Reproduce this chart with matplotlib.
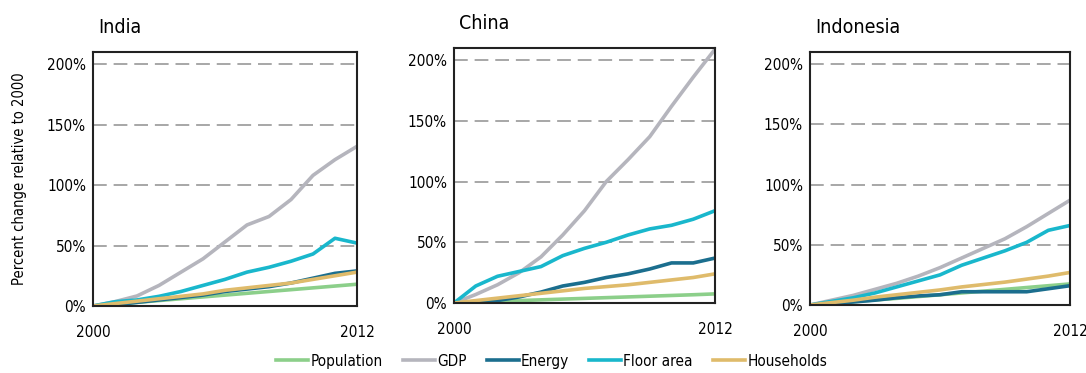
import numpy as np
import matplotlib
matplotlib.use("Agg")
import matplotlib.pyplot as plt

plt.rcParams['font.family'] = ['DejaVu Sans']
plt.rcParams['font.stretch'] = 'condensed'

# Datos (cambio % respecto a 2000)
years = list(range(2000, 2013))
series_names = ["Population", "GDP", "Energy", "Floor area", "Households"]
colors = ["#8ccf8a", "#b5b5bd", "#1b6e8e", "#19b7cc", "#dfbb6b"]

india_population = [0, 1.5, 3, 4.5, 6, 7.5, 9, 10.5, 12, 13.5, 15, 16.5, 18]
india_gdp = [0, 3.6, 8.3, 17, 28, 39, 53, 67, 74, 88, 108, 121, 132]
india_energy = [0, 1, 3, 5, 7, 9, 12, 14, 16, 19, 23, 27, 29]
india_floor = [0, 3.5, 5, 8, 12, 17, 22, 28, 32, 37, 43, 56, 52]
india_households = [0, 2, 4, 6, 8, 10, 13, 15, 17, 19, 22, 25, 28]

china_population = [0, 0.7, 1.4, 2, 2.6, 3.2, 3.8, 4.4, 5, 5.6, 6.2, 6.8, 7.5]
china_gdp = [0, 7, 15, 25, 38, 56, 76, 100, 118, 137, 162, 186, 209]
china_energy = [0, 0.5, 2, 5, 9, 14, 17, 21, 24, 28, 33, 33, 37]
china_floor = [0, 14, 22, 26, 30, 39, 45, 50, 56, 61, 64, 69, 76]
china_households = [0, 2, 4, 6, 8, 10, 12, 13.5, 15, 17, 19, 21, 24]

indonesia_population = [0, 1.4, 2.8, 4.2, 5.5, 7, 8.5, 10, 11.5, 13, 14.5, 16, 17.5]
indonesia_gdp = [0, 4, 8, 13, 18, 24, 31, 39, 47, 55, 65, 76, 87]
indonesia_energy = [0, 1, 2.5, 4, 6, 7.5, 8.5, 11, 11, 11, 11, 13.5, 16]
indonesia_floor = [0, 3, 6, 10, 15, 20, 25, 33, 39, 45, 52, 62, 66]
indonesia_households = [0, 2, 4, 6.5, 8.5, 10.5, 12.5, 15, 17, 19, 21.5, 24, 27]

countries = ["India", "China", "Indonesia"]
data = {
    "India": [india_population, india_gdp, india_energy, india_floor, india_households],
    "China": [china_population, china_gdp, china_energy, china_floor, china_households],
    "Indonesia": [indonesia_population, indonesia_gdp, indonesia_energy,
                  indonesia_floor, indonesia_households],
}

fig = plt.figure(figsize=(10.86, 3.73), dpi=100)
W, H = 1086, 373
# posiciones de los ejes en píxeles (izq, der, arriba, abajo)
boxes = [(93, 357, 52, 306), (454, 715, 48, 303), (810, 1070, 52, 305)]

lines = []
for country, (l, r, t, b) in zip(countries, boxes):
    ax = fig.add_axes([l / W, 1 - b / H, (r - l) / W, (b - t) / H])
    for name, vals, c in zip(series_names, data[country], colors):
        ln, = ax.plot(years, vals, color=c, lw=2.6, label=name)
        if country == "India":
            lines.append(ln)
    ax.set_xlim(2000, 2012)
    ax.set_ylim(0, 210)
    for g in [50, 100, 150, 200]:
        ax.axhline(g, color="#909090", lw=1.1, dashes=(9, 4.5), zorder=0)
    ax.set_yticks([0, 50, 100, 150, 200])
    ax.set_yticklabels(["0%", "50%", "100%", "150%", "200%"])
    ax.set_xticks([2000, 2012])
    ax.set_xticklabels(["2000", "2012"])
    ax.tick_params(length=0, labelsize=11, pad=5)
    ax.tick_params(axis="x", pad=14)
    for s in ax.spines.values():
        s.set_linewidth(1.5)
        s.set_color("#222222")
    ax.text(0.02, 1.06, country, transform=ax.transAxes, fontsize=14,
            ha="left", va="bottom")
    if country == "India":
        ax.set_ylabel("Percent change relative to 2000", fontsize=10.5, labelpad=14)

fig.legend(handles=lines, labels=series_names, loc="lower center",
           bbox_to_anchor=(0.508, -0.025), ncol=5, frameon=False, fontsize=11,
           handlelength=2.1, handletextpad=0.15, columnspacing=1.3)

fig.savefig("out.png", dpi=100)
